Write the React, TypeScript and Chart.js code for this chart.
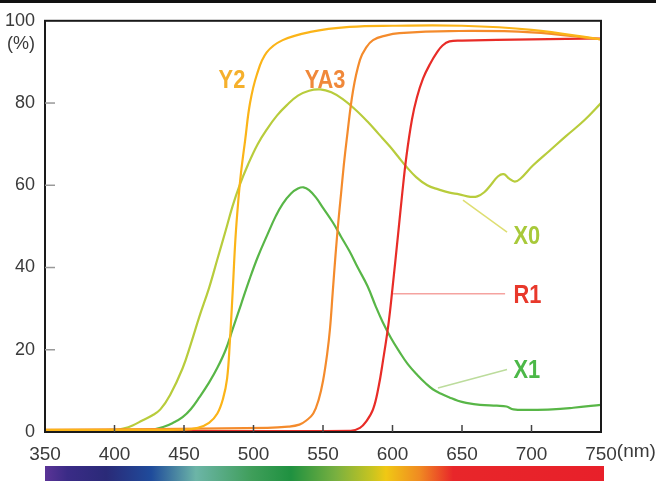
import React, { useEffect, useRef } from "react";
import { Chart, registerables } from "chart.js";

Chart.register(...registerables);

// ---- axis ticks ----
const xTicks = [350, 400, 450, 500, 550, 600, 650, 700, 750];
const yTicks = [0, 20, 40, 60, 80, 100];

// ---- series (wavelength nm, transmittance %) ----
const y2Nm = [350, 450, 460, 468, 474, 478, 481, 483, 485, 487, 489, 491, 494, 497.5, 502.5, 509.5, 521, 541, 569, 600, 650, 700, 750];
const y2Val = [0.5, 0.6, 1, 2.2, 4.5, 8, 13, 22, 34, 47, 56, 63, 71, 80, 87, 92.3, 95.3, 97.3, 98.5, 98.8, 98.8, 97.8, 95.5];

const ya3Nm = [350, 510, 525, 533, 538, 543, 547, 550, 553, 555, 557, 559, 561, 563, 565, 567, 571.6, 576.6, 581, 586, 595, 605, 641, 700, 750];
const ya3Val = [0.5, 1, 1.3, 1.8, 2.8, 4.5, 8, 12.4, 19, 25, 34, 43, 51, 58, 65, 71, 83, 90.5, 93.5, 95.3, 96.4, 97, 97.5, 97.2, 95.5];

const r1Nm = [350, 570, 576.6, 581, 586, 590, 593, 597, 600, 604, 607, 610, 614, 617.6, 622, 627, 632, 636, 641, 650, 700, 750];
const r1Val = [0.3, 0.3, 1, 2.5, 5.5, 11, 17, 26, 35, 48, 58, 67, 76, 81.4, 86, 89.5, 92.3, 94, 95, 95.2, 95.5, 95.7];

const x0Nm = [350, 400, 407, 413, 420, 427, 433, 440, 449, 455, 461, 468, 474, 480, 485, 490, 496, 503, 510, 517, 524, 532, 540, 548, 556, 564, 573, 582, 590, 598, 604, 610, 617, 625, 633, 641, 648, 656, 661, 666, 671, 676, 680, 684, 688, 692, 701, 713, 725, 738, 750];
const x0Val = [0.4, 0.5, 0.9, 1.6, 2.8, 4, 5.5, 9, 15.5, 21.5, 28, 35, 42, 49, 55, 60, 65, 70, 73.8, 77, 79.5, 81.8, 83, 83.3, 82.6, 81, 78.5, 75.5, 72.5, 69.5, 67, 64.5, 62, 60, 59, 58.2, 57.8, 57.2, 57.3, 58.3, 60.2, 62.2, 62.7, 61.6, 60.9, 61.6, 64.8, 68.4, 72, 75.8, 80];

const x1Nm = [350, 420, 428, 435, 442, 449, 455, 461, 468, 474, 480, 485, 491, 497, 503, 510, 516, 521, 527, 532, 536, 540, 545, 550, 557, 563, 569, 575, 582, 588, 593, 599, 605, 611, 618, 624, 629, 635, 641, 647, 653, 663, 675, 682, 687, 700, 715, 730, 750];
const x1Val = [0.3, 0.3, 0.6, 1.2, 2.2, 3.6, 5.6, 8.4, 12, 15.6, 20, 25, 31, 37, 42.5, 48, 52.5, 55.5, 58, 59.2, 59.5, 58.8, 57, 54.5, 51, 47.5, 44, 40, 35.5, 30.5, 26.7, 22.8, 19.5, 16.5, 13.8, 11.8, 10.4, 9.3, 8.4, 7.6, 7.1, 6.6, 6.4, 6.2, 5.5, 5.4, 5.5, 5.9, 6.6];

// ---- labels ----
const seriesNames = ["Y2", "YA3", "R1", "X0", "X1"];
const seriesColors = ["#fbb418", "#f48b2c", "#e82c27", "#b8cc3c", "#58b647"];
const labelColors = ["#f5b02c", "#f0883a", "#e8382b", "#a8c93a", "#4cb848"];

// label anchor (data units) and optional leader line (data units)
const labelAt: Record<string, { nm: number; v: number; align: string }> = {
  Y2: { nm: 484.5, v: 85.7, align: "center" },
  YA3: { nm: 551.5, v: 85.7, align: "center" },
  X0: { nm: 687, v: 47.6, align: "left" },
  R1: { nm: 687, v: 33.3, align: "left" },
  X1: { nm: 687, v: 15, align: "left" },
};
const leaders: Record<string, number[]> = {
  X0: [650.7, 56.4, 682.4, 48.6],
  R1: [600.4, 33.6, 681, 33.6],
  X1: [632.7, 10.7, 682.4, 15.2],
};
const leaderColors: Record<string, string> = { X0: "#dede72", R1: "#f5a3a0", X1: "#bcdc9c" };

const spectrumStops: [number, string][] = [
  [0, "#5b3497"],
  [0.04, "#3a2b86"],
  [0.11, "#2a2a78"],
  [0.19, "#1f4b9b"],
  [0.27, "#6cb5a7"],
  [0.37, "#3f9e5a"],
  [0.44, "#1f9140"],
  [0.52, "#78b040"],
  [0.585, "#c8c420"],
  [0.61, "#f0c814"],
  [0.67, "#f08a22"],
  [0.73, "#e8262a"],
  [1, "#e8202a"],
];

const FONT = "'Liberation Sans', Arial, sans-serif";

const decor = {
  id: "decor",
  beforeDatasetsDraw(chart: any) {
    const { ctx, scales } = chart;
    const x = scales.x, y = scales.y;
    ctx.save();
    ctx.lineWidth = 1.5;
    Object.keys(leaders).forEach((k) => {
      const [a, b, c, d] = leaders[k];
      ctx.strokeStyle = leaderColors[k];
      ctx.beginPath();
      ctx.moveTo(x.getPixelForValue(a), y.getPixelForValue(b));
      ctx.lineTo(x.getPixelForValue(c), y.getPixelForValue(d));
      ctx.stroke();
    });
    ctx.restore();
  },
  afterDraw(chart: any) {
    const { ctx, chartArea: a, scales } = chart;
    const x = scales.x, y = scales.y;
    ctx.save();
    // top edge band
    ctx.fillStyle = "#111";
    ctx.fillRect(0, 0, chart.width, 3);
    // frame
    ctx.strokeStyle = "#1a1a1a";
    ctx.lineWidth = 2;
    ctx.strokeRect(a.left, a.top, a.right - a.left, a.bottom - a.top);
    // inner tick marks
    ctx.lineWidth = 1.5;
    ctx.strokeStyle = "#444";
    xTicks.forEach((v) => {
      if (v === xTicks[0] || v === xTicks[xTicks.length - 1]) return;
      const px = x.getPixelForValue(v);
      ctx.beginPath();
      ctx.moveTo(px, a.bottom);
      ctx.lineTo(px, a.bottom - 7);
      ctx.stroke();
    });
    ctx.strokeStyle = "#999";
    yTicks.forEach((v) => {
      if (v === yTicks[0] || v === yTicks[yTicks.length - 1]) return;
      const py = y.getPixelForValue(v);
      ctx.beginPath();
      ctx.moveTo(a.left, py);
      ctx.lineTo(a.left + 10, py);
      ctx.stroke();
    });
    // unit labels
    ctx.fillStyle = "#3a3a3a";
    ctx.font = `18px ${FONT}`;
    ctx.textAlign = "right";
    ctx.textBaseline = "middle";
    ctx.fillText("(%)", a.left - 10, y.getPixelForValue(100) + 23);
    ctx.font = `19px ${FONT}`;
    ctx.textAlign = "left";
    const last = xTicks[xTicks.length - 1];
    const w750 = ctx.measureText(String(last)).width;
    ctx.fillText("(nm)", x.getPixelForValue(last) + w750 / 2, a.bottom + 20);
    // spectrum bar
    const bx0 = a.left, bx1 = a.right + 3, by = 466, bh = 15;
    const g = ctx.createLinearGradient(bx0, 0, bx1, 0);
    spectrumStops.forEach(([o, c]) => g.addColorStop(o, c));
    ctx.fillStyle = g;
    ctx.fillRect(bx0, by, bx1 - bx0, bh);
    // series labels
    ctx.font = `bold 26px ${FONT}`;
    ctx.textBaseline = "middle";
    seriesNames.forEach((n, i) => {
      const p = labelAt[n];
      const px = x.getPixelForValue(p.nm);
      const py = y.getPixelForValue(p.v);
      ctx.save();
      ctx.translate(px, py);
      ctx.scale(0.84, 1);
      ctx.textAlign = p.align as CanvasTextAlign;
      ctx.fillStyle = labelColors[i];
      ctx.fillText(n, 0, 1);
      ctx.restore();
    });
    ctx.restore();
  },
};

export default function App() {
  const ref = useRef<HTMLCanvasElement | null>(null);
  useEffect(() => {
    if (!ref.current) return;
    const series = [
      [y2Nm, y2Val],
      [ya3Nm, ya3Val],
      [r1Nm, r1Val],
      [x0Nm, x0Val],
      [x1Nm, x1Val],
    ];
    const chart = new Chart(ref.current, {
      type: "line",
      data: {
        datasets: series.map(([nm, val], i) => ({
          label: seriesNames[i],
          data: nm.map((v, j) => ({ x: v, y: val[j] })),
          borderColor: seriesColors[i],
          borderWidth: 2.2,
          pointRadius: 0,
          fill: false,
          tension: 0.4,
        })),
      },
      options: {
        responsive: false,
        animation: false,
        layout: { padding: { left: 0, right: 55, top: 13, bottom: 0 } },
        plugins: { legend: { display: false }, tooltip: { enabled: false } },
        scales: {
          x: {
            type: "linear",
            min: xTicks[0],
            max: xTicks[xTicks.length - 1],
            afterBuildTicks: (s: any) => {
              s.ticks = xTicks.map((v) => ({ value: v }));
            },
            afterFit: (s: any) => {
              s.height = 49;
            },
            grid: { display: false, drawTicks: false },
            border: { display: false },
            ticks: {
              padding: 11,
              color: "#3a3a3a",
              font: { family: FONT, size: 19 },
              maxRotation: 0,
              autoSkip: false,
            },
          },
          y: {
            min: yTicks[0],
            max: yTicks[yTicks.length - 1],
            afterBuildTicks: (s: any) => {
              s.ticks = yTicks.map((v) => ({ value: v }));
            },
            afterFit: (s: any) => {
              s.width = 45;
            },
            grid: { display: false, drawTicks: false },
            border: { display: false },
            ticks: {
              padding: 10,
              color: "#3a3a3a",
              font: { family: FONT, size: 18 },
            },
          },
        },
      },
      plugins: [decor],
    });
    return () => chart.destroy();
  }, []);
  return (
    <div style={{ position: "fixed", left: 0, top: 0, width: 656, height: 481, background: "#fff" }}>
      <canvas ref={ref} width={656} height={481} style={{ display: "block" }} />
    </div>
  );
}
